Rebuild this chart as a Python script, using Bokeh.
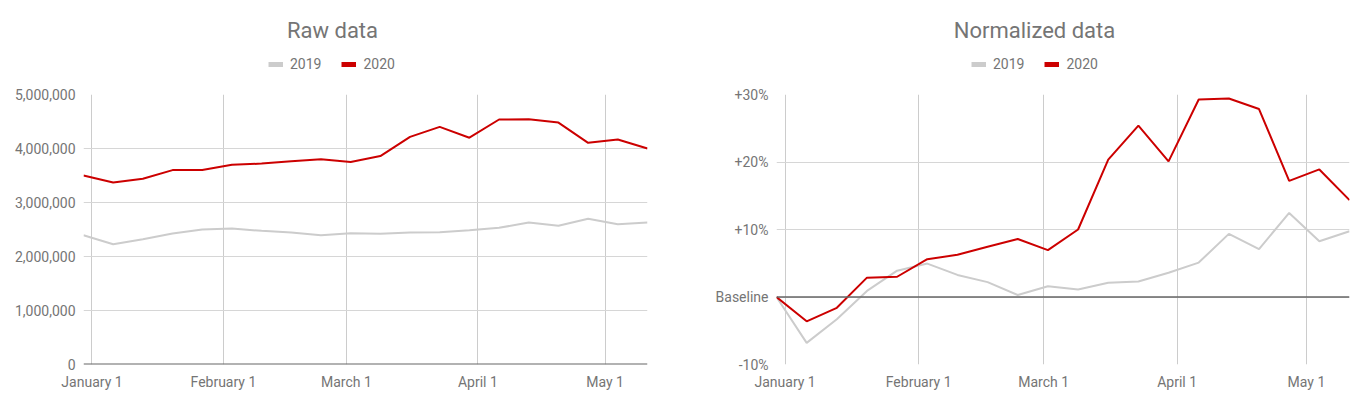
from datetime import datetime
from bokeh.plotting import figure
from bokeh.layouts import row, column
from bokeh.models import (ColumnDataSource, Range1d, FixedTicker, NumeralTickFormatter,
                          Span, Legend, LegendItem, Label)
from bokeh.embed import file_html
from bokeh.resources import INLINE

# ---------------- data ----------------
weeks = ["2019-12-30", "2020-01-06", "2020-01-13", "2020-01-20", "2020-01-27",
         "2020-02-03", "2020-02-10", "2020-02-17", "2020-02-24", "2020-03-02",
         "2020-03-09", "2020-03-16", "2020-03-23", "2020-03-30", "2020-04-06",
         "2020-04-13", "2020-04-20", "2020-04-27", "2020-05-04", "2020-05-11"]

raw_2019 = [2395000, 2228000, 2320000, 2426000, 2500000, 2518000, 2475000, 2444000,
            2395000, 2432000, 2420000, 2444000, 2450000, 2488000, 2531000, 2630000,
            2568000, 2698000, 2599000, 2630000]
raw_2020 = [3500000, 3370000, 3440000, 3600000, 3600000, 3700000, 3720000, 3765000,
            3800000, 3750000, 3860000, 4216000, 4400000, 4200000, 4537000, 4543000,
            4480000, 4105000, 4167000, 4000000]

norm_2019 = [0.0, -6.8, -3.3, 0.9, 3.9, 4.95, 3.27, 2.2, 0.3, 1.6,
             1.1, 2.1, 2.3, 3.6, 5.1, 9.35, 7.1, 12.45, 8.25, 9.75]
norm_2020 = [0.0, -3.6, -1.6, 2.87, 3.0, 5.6, 6.25, 7.45, 8.6, 6.95,
             10.0, 20.35, 25.4, 20.1, 29.25, 29.4, 27.85, 17.2, 18.9, 14.35]

month_ticks = ["2020-01-01", "2020-02-01", "2020-03-01", "2020-04-01", "2020-05-01"]
month_labels = ["January 1", "February 1", "March 1", "April 1", "May 1"]

raw_ticks = [0, 1000000, 2000000, 3000000, 4000000, 5000000]
norm_ticks = [-10, 0, 10, 20, 30]
norm_labels = ["-10%", "Baseline", "+10%", "+20%", "+30%"]

series_names = ["2019", "2020"]
titles = ["Raw data", "Normalized data"]

# ---------------- style ----------------
GRAY = "#cccccc"
RED = "#cc0000"
TXT = "#757575"
FONT = "Roboto"
HEADER_H = 84

EPOCH = datetime(1970, 1, 1)


def to_dt(s):
    return datetime.strptime(s, "%Y-%m-%d")


def to_ms(s):
    return (to_dt(s) - EPOCH).total_seconds() * 1000.0


x_dates = [to_dt(d) for d in weeks]
tick_ms = [to_ms(d) for d in month_ticks]
NAN = float("nan")


def make_header(title, width, bl, br, title_cx, legend_x):
    fw = width - bl - br
    h = figure(width=width, height=HEADER_H, x_range=Range1d(0, fw),
               y_range=Range1d(0, HEADER_H), output_backend="svg",
               toolbar_location=None, x_axis_location=None, y_axis_location=None,
               frame_width=fw, frame_height=HEADER_H,
               min_border_left=bl, min_border_right=br,
               min_border_top=0, min_border_bottom=0)
    h.outline_line_color = None
    h.grid.visible = False
    h.add_layout(Label(x=title_cx - bl, y=HEADER_H - 30, text=title, text_font=FONT,
                       text_font_size="22px", text_color=TXT, text_align="center",
                       text_baseline="middle"))
    # legend-only proxies (no visible data)
    s19 = h.line(x=[NAN], y=[NAN], line_color=GRAY, line_width=5)
    s20 = h.line(x=[NAN], y=[NAN], line_color=RED, line_width=5)
    legend = Legend(items=[LegendItem(label=series_names[0], renderers=[s19]),
                           LegendItem(label=series_names[1], renderers=[s20])],
                    orientation="horizontal", location=(legend_x - bl, HEADER_H - 74),
                    glyph_width=15, glyph_height=20, label_standoff=7, spacing=20,
                    padding=0, margin=0, border_line_color=None,
                    background_fill_alpha=0,
                    label_text_font=FONT, label_text_font_size="14px",
                    label_text_color=TXT)
    h.add_layout(legend, "center")
    return h


def make_panel(y19, y20, y_start, y_end, y_ticks, width, bl, br, base_width):
    src = ColumnDataSource(dict(x=x_dates, y19=y19, y20=y20))
    p = figure(x_axis_type="datetime",
               x_range=Range1d(to_dt(weeks[0]), to_dt(weeks[-1])),
               y_range=Range1d(y_start, y_end),
               output_backend="svg", toolbar_location=None,
               frame_width=width - bl - br, frame_height=270,
               min_border_left=bl, min_border_right=br,
               min_border_top=94 - HEADER_H, min_border_bottom=48)
    p.outline_line_color = None
    p.background_fill_color = "white"
    p.border_fill_color = "white"

    for ax in (p.xaxis[0], p.yaxis[0]):
        ax.axis_line_color = None
        ax.major_tick_line_color = None
        ax.minor_tick_line_color = None
        ax.major_tick_out = 0
        ax.major_tick_in = 0
        ax.minor_tick_out = 0
        ax.minor_tick_in = 0
        ax.major_label_text_font = FONT
        ax.major_label_text_font_size = "14px"
        ax.major_label_text_color = TXT
    p.xaxis.major_label_standoff = 9
    p.yaxis.major_label_standoff = 8

    p.xaxis.ticker = FixedTicker(ticks=tick_ms)
    p.xaxis.major_label_overrides = {t: l for t, l in zip(tick_ms, month_labels)}
    p.yaxis.ticker = FixedTicker(ticks=y_ticks)

    p.xgrid.ticker = FixedTicker(ticks=tick_ms)
    p.xgrid.grid_line_color = GRAY
    p.xgrid.grid_line_width = 1
    p.ygrid.grid_line_color = "#d6d6d6"
    p.ygrid.grid_line_width = 1

    base = Span(location=0, dimension="width", line_color="#666666", line_width=base_width)
    p.add_layout(base)

    p.line("x", "y19", source=src, line_color=GRAY, line_width=2)
    p.line("x", "y20", source=src, line_color=RED, line_width=2)
    return p


h1 = make_header(titles[0], 685, 83, 38, 332, 268)
p1 = make_panel(raw_2019, raw_2020, 0, 5000000, raw_ticks, 685, 83, 38, 2)
p1.yaxis.formatter = NumeralTickFormatter(format="0,0")

h2 = make_header(titles[1], 686, 91, 22, 1034 - 685, 971 - 685)
p2 = make_panel(norm_2019, norm_2020, -10, 30, norm_ticks, 686, 91, 22, 1.5)
p2.yaxis.major_label_overrides = {t: l for t, l in zip(norm_ticks, norm_labels)}

layout = row(column(h1, p1), column(h2, p2))
open("out.html", "w").write(file_html(layout, INLINE))
